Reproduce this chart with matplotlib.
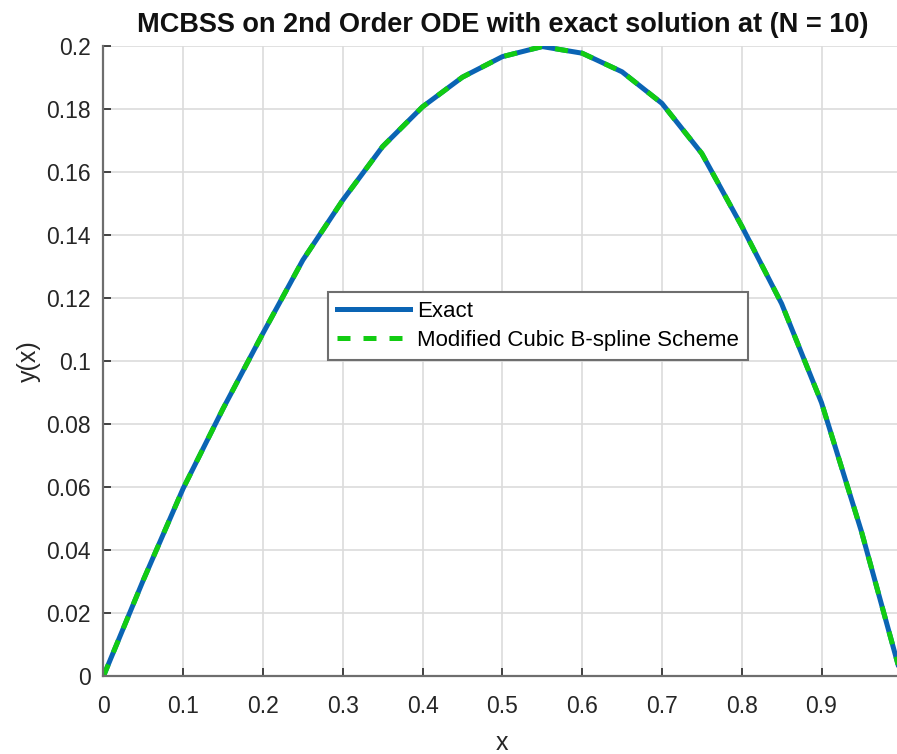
import matplotlib
matplotlib.use("Agg")
import matplotlib.pyplot as plt

# valores (paso 0.05)
x = [0.0, 0.05, 0.1, 0.15, 0.2, 0.25, 0.3, 0.35, 0.4, 0.45, 0.5,
     0.55, 0.6, 0.65, 0.7, 0.75, 0.8, 0.85, 0.9, 0.95, 1.0]
y_exacta = [0.0, 0.0305, 0.0596, 0.0849, 0.1088, 0.1320, 0.1510, 0.1680,
            0.1806, 0.1900, 0.1965, 0.1997, 0.1976, 0.1917, 0.1817, 0.1658,
            0.1428, 0.1182, 0.0868, 0.0460, 0.0]
y_mcbss = [0.0, 0.0305, 0.0596, 0.0849, 0.1088, 0.1320, 0.1510, 0.1680,
           0.1806, 0.1900, 0.1965, 0.1997, 0.1976, 0.1917, 0.1817, 0.1658,
           0.1428, 0.1182, 0.0868, 0.0460, 0.0]

x_ticks = [0, 0.1, 0.2, 0.3, 0.4, 0.5, 0.6, 0.7, 0.8, 0.9, 1]
x_labels = ["0", "0.1", "0.2", "0.3", "0.4", "0.5", "0.6", "0.7", "0.8", "0.9", "1"]
y_ticks = [0, 0.02, 0.04, 0.06, 0.08, 0.1, 0.12, 0.14, 0.16, 0.18, 0.2]
y_labels = ["0", "0.02", "0.04", "0.06", "0.08", "0.1", "0.12", "0.14", "0.16", "0.18", "0.2"]

plt.rcParams['font.family'] = ['Liberation Sans', 'DejaVu Sans']

fig = plt.figure(figsize=(8.97, 7.54), dpi=100)
ax = fig.add_axes([0.1152, 0.1028, 0.8896, 0.8367])

ax.plot(x, y_exacta, color='#0a64b4', linewidth=3.6, label='Exact')
ax.plot(x, y_mcbss, color='#12cc12', linewidth=3.6, dashes=(2.6, 2.6),
        label='Modified Cubic B-spline Scheme')

ax.set_xlim(0, 1)
ax.set_ylim(0, 0.2)
ax.set_xticks(x_ticks)
ax.set_xticklabels(x_labels)
ax.set_yticks(y_ticks)
ax.set_yticklabels(y_labels)

ax.grid(True, color='#dcdcdc', linewidth=1.2)
ax.set_axisbelow(True)
for lado in ['top', 'right']:
    ax.spines[lado].set_visible(False)
for lado in ['left', 'bottom']:
    ax.spines[lado].set_color('#6e6e6e')
    ax.spines[lado].set_linewidth(1.6)
ax.tick_params(direction='in', length=6, width=1.2, colors='#262626',
               labelsize=16.5)
ax.tick_params(axis='x', pad=13)
ax.tick_params(axis='y', pad=9)

ax.set_title("MCBSS on 2nd Order ODE with exact solution at (N = 10)",
             fontsize=19.5, fontweight='bold', color='#111111', pad=10)
ax.set_xlabel("x", fontsize=18, color='#262626', labelpad=10)
ax.set_ylabel("y(x)", fontsize=18, color='#262626', labelpad=4)

leg = ax.legend(loc='upper left', bbox_to_anchor=(0.2816, 0.6095), fontsize=16,
                fancybox=False, edgecolor='#6e6e6e', framealpha=1,
                handlelength=3.3, handletextpad=0.3, borderpad=0.4,
                labelspacing=0.35, borderaxespad=0)
leg.get_frame().set_linewidth(1.5)

fig.savefig("out.png", dpi=100)
